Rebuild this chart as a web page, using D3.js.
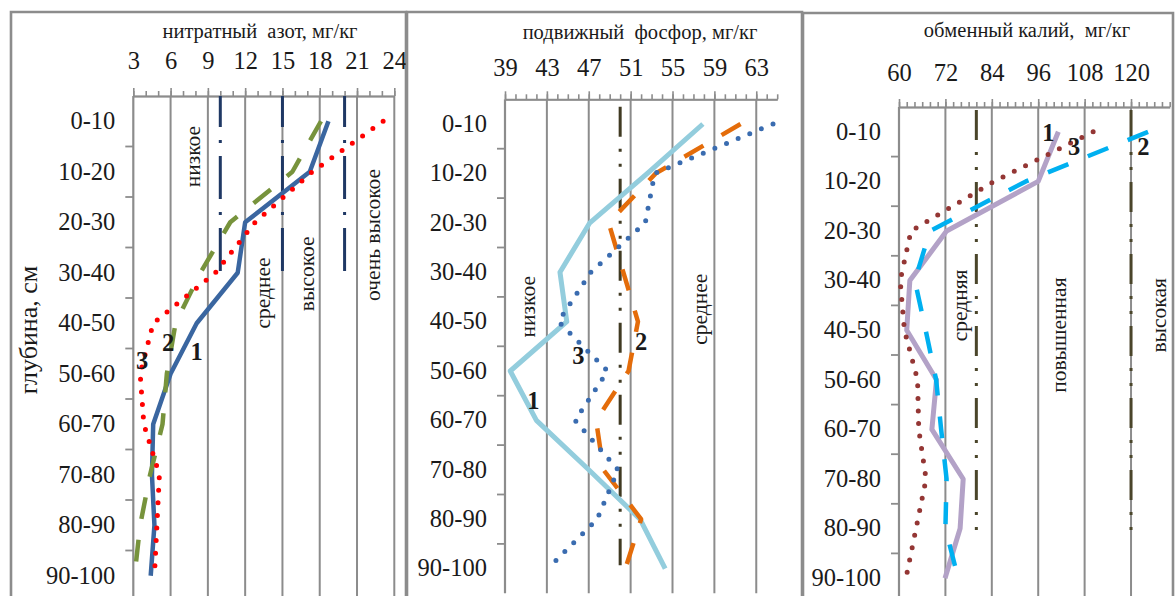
<!DOCTYPE html>
<html>
<head>
<meta charset="utf-8">
<script src="https://cdn.jsdelivr.net/npm/d3@7/dist/d3.min.js"></script>
<style>
    body { margin: 0; background: #fff; }
    svg { display: block; font-family: "Liberation Serif", "Times New Roman", serif; }
    text { white-space: pre; fill: #1a1a1a; }
</style>
</head>
<body>
<svg></svg>
<script>
const depths = ["0-10", "10-20", "20-30", "30-40", "40-50", "50-60", "60-70", "70-80", "80-90", "90-100"];

// нитратный азот
const nitrateTicks = [3, 6, 9, 12, 15, 18, 21, 24];
const nitrate1 = [18.7, 17.2, 12.0, 11.4, 8.1, 6.0, 4.6, 4.5, 4.7, 4.4];
const nitrate2 = [18.1, 15.8, 10.8, 8.4, 6.4, 5.7, 5.35, 4.35, 3.55, 3.1];
const nitrate3 = [23.1, 17.4, 12.8, 9.6, 4.6, 3.55, 3.85, 5.1, 4.9, 4.7];
const nitrateLevels = [10, 15, 20];
const nitrateZones = ["низкое", "среднее", "высокое", "очень высокое"];

// подвижный фосфор
const phosphorTicks = [39, 43, 47, 51, 55, 59, 63];
const phosphor1 = [57.9, 52.6, 47.1, 44.25, 44.9, 39.5, 42.0, 47.0, 51.9, 54.3];
const phosphor2 = [61.5, 53.4, 48.9, 50.3, 51.7, 50.8, 47.7, 48.4, 52.0, 50.5];
const phosphor3 = [64.6, 53.3, 52.4, 47.2, 44.1, 48.8, 45.7, 49.8, 47.8, 43.1];
const phosphorLevels = [50];
const phosphorZones = ["низкое", "среднее"];

// обменный калий
const potassiumTicks = [60, 72, 84, 96, 108, 120];
const potassium1 = [101.2, 96.0, 72.3, 62.8, 62.0, 69.7, 68.5, 76.6, 75.8, 71.9];
const potassium2 = [124.4, 92.8, 68.0, 64.1, 66.9, 69.6, 70.9, 72.3, 72.0, 75.3];
const potassium3 = [110.2, 84.6, 63.1, 60.3, 61.4, 64.8, 65.1, 67.0, 64.4, 61.8];
const potassiumLevels = [80, 120];
const potassiumZones = ["средняя", "повышенная", "высокая"];

const seriesNames = ["1", "2", "3"];

const width = 1176;
const height = 596;
const gray = "#8c8c8c";
let svg = d3.select("svg").attr("width", width).attr("height", height);

const solid = null;
const dashed = "22,21";
const dotted = "0,12.6";

const panels = [
    {
        title: "нитратный  азот, мг/кг", titleX: 260, titleY: 38,
        frame: [11, 12, 406],
        domain: [3, 24], ticks: nitrateTicks, minorStep: 1,
        xRange: [133.3, 394.3], yRange: [96, 601], tickGap: 27.5,
        series: [
            {values: nitrate1, color: "#3a66a0", width: 4.5, dash: solid},
            {values: nitrate2, color: "#77933c", width: 4.5, dash: dashed},
            {values: nitrate3, color: "#ff0000", width: 5, dash: dotted}
        ],
        names: [[8.1, 5.06], [5.8, 4.89], [3.7, 5.23]],
        levels: nitrateLevels, levelColor: "#1f3864", levelDash: "43,13,3,13", levelOffset: 12, levelSpan: [0, 3.5],
        zones: nitrateZones, zonePos: [[7.8, 1.2], [13.4, 3.9], [17.0, 3.52], [22.3, 2.75]]
    },
    {
        title: "подвижный  фосфор, мг/кг", titleX: 640, titleY: 38.5,
        frame: [407, 12, 802],
        domain: [39, 65], ticks: phosphorTicks, minorStep: 1,
        xRange: [505, 777.2], yRange: [99.3, 593.3], tickGap: 23.8,
        series: [
            {values: phosphor1, color: "#93cddd", width: 5, dash: solid},
            {values: phosphor2, color: "#e46c0a", width: 4.5, dash: dashed},
            {values: phosphor3, color: "#3a6cb0", width: 5, dash: dotted}
        ],
        names: [[41.7, 6.09], [52.0, 4.91], [46.0, 5.18]],
        levels: phosphorLevels, levelColor: "#403a22", levelDash: "30,12,3,12,3,12", levelOffset: 0, levelSpan: [0.15, 9.43],
        zones: phosphorZones, zonePos: [[41.2, 4.2], [57.6, 4.25]]
    },
    {
        title: "обменный калий,  мг/кг", titleX: 1027, titleY: 37,
        frame: [803, 13, 1173],
        domain: [60, 130], ticks: potassiumTicks, minorStep: 2,
        xRange: [899, 1169.7], yRange: [107, 603], tickGap: 26.5,
        series: [
            {values: potassium1, color: "#b3a2c7", width: 5, dash: solid},
            {values: potassium2, color: "#00b0f0", width: 4.5, dash: dashed},
            {values: potassium3, color: "#943634", width: 5, dash: dotted}
        ],
        names: [[98.6, 0.52], [123.2, 0.8], [105.3, 0.8]],
        levels: potassiumLevels, levelColor: "#4a452a", levelDash: "30,12,3,12,3,12", levelOffset: 0, levelSpan: [0.06, 8.7],
        zones: potassiumZones, zonePos: [[75.8, 4.0], [101.4, 4.6], [127.3, 4.2]]
    }
];

function drawPanel(p) {
    let x = d3.scaleLinear().domain(p.domain).range(p.xRange);
    let y = d3.scaleBand().domain(depths).range(p.yRange);
    let [top, bottom] = y.range();
    let x0 = x(p.domain[0]);
    const at = f => top + f * y.step();
    let g = svg.append("g");

    // рамка
    g.append("path")
        .attr("d", `M${p.frame[0]},${height + 10}V${p.frame[1]}H${p.frame[2]}V${height + 10}`)
        .attr("fill", "none").attr("stroke", gray).attr("stroke-width", 2.6);

    g.append("text").attr("x", p.titleX).attr("y", p.titleY)
        .attr("text-anchor", "middle").attr("font-size", 20.5).text(p.title);

    // сетка
    g.selectAll(".grid").data(p.ticks.slice(1)).enter().append("line")
        .attr("x1", d => x(d)).attr("x2", d => x(d))
        .attr("y1", top).attr("y2", bottom)
        .attr("stroke", gray).attr("stroke-width", 2);

    // верхняя ось
    let minor = d3.range(p.domain[0], p.domain[1] + 0.001, p.minorStep);
    g.append("g").attr("transform", `translate(0,${top})`)
        .call(d3.axisTop(x).tickValues(minor).tickSize(5).tickSizeOuter(0).tickFormat(""))
        .call(a => a.selectAll("line, path").attr("stroke", gray).attr("stroke-width", 1.6));
    g.append("g").attr("transform", `translate(0,${top})`)
        .call(d3.axisTop(x).tickValues(p.ticks).tickSize(8).tickSizeOuter(0).tickPadding(p.tickGap - 8))
        .call(a => a.select(".domain").attr("stroke", gray).attr("stroke-width", 2))
        .call(a => a.selectAll("line").attr("stroke", gray).attr("stroke-width", 1.6))
        .call(a => a.selectAll("text").attr("font-size", 24.5).attr("fill", "#1a1a1a")
            .attr("font-family", "Liberation Serif, serif"));

    // левая ось
    g.append("line").attr("x1", x0).attr("x2", x0).attr("y1", top).attr("y2", bottom)
        .attr("stroke", gray).attr("stroke-width", 2.2);
    g.selectAll(".ytick").data(depths.slice(1)).enter().append("line")
        .attr("x1", x0 - 8).attr("x2", x0)
        .attr("y1", d => y(d)).attr("y2", d => y(d))
        .attr("stroke", gray).attr("stroke-width", 1.8);
    g.append("g").attr("transform", `translate(${x0},0)`)
        .call(d3.axisLeft(y).tickSize(0).tickPadding(18))
        .call(a => a.select(".domain").remove())
        .call(a => a.selectAll("text").attr("font-size", 24.5).attr("fill", "#1a1a1a")
            .attr("font-family", "Liberation Serif, serif"));

    // уровни обеспеченности
    g.selectAll(".level").data(p.levels).enter().append("line")
        .attr("x1", d => x(d)).attr("x2", d => x(d))
        .attr("y1", at(p.levelSpan[0])).attr("y2", at(p.levelSpan[1]))
        .attr("stroke", p.levelColor).attr("stroke-width", 3)
        .attr("stroke-dasharray", p.levelDash).attr("stroke-dashoffset", p.levelOffset);

    p.zones.forEach((z, i) => {
        let [v, f] = p.zonePos[i];
        g.append("text")
            .attr("transform", `translate(${x(v)},${at(f)}) rotate(-90)`)
            .attr("text-anchor", "middle").attr("dominant-baseline", "central")
            .attr("font-size", 21.5).text(z);
    });

    // кривые
    let line = d3.line()
        .x(d => x(d[1]))
        .y(d => y(d[0]) + y.bandwidth() / 2);
    p.series.forEach(s => {
        g.append("path")
            .datum(depths.map((d, i) => [d, s.values[i]]))
            .attr("d", line)
            .attr("fill", "none")
            .attr("stroke", s.color)
            .attr("stroke-width", s.width)
            .attr("stroke-linejoin", "round")
            .attr("stroke-linecap", s.dash === dotted ? "round" : "butt")
            .attr("stroke-dasharray", s.dash);
    });

    seriesNames.forEach((n, i) => {
        let [v, f] = p.names[i];
        g.append("text").attr("x", x(v)).attr("y", at(f))
            .attr("text-anchor", "middle").attr("dominant-baseline", "central")
            .attr("font-size", 24.5).attr("font-weight", "bold").text(n);
    });
}

svg.append("rect").attr("width", width).attr("height", height).attr("fill", "#fff");
panels.forEach(drawPanel);

svg.append("text")
    .attr("transform", "translate(28,330) rotate(-90)")
    .attr("text-anchor", "middle").attr("dominant-baseline", "central")
    .attr("font-size", 26).text("глубина, см");
</script>
</body>
</html>
